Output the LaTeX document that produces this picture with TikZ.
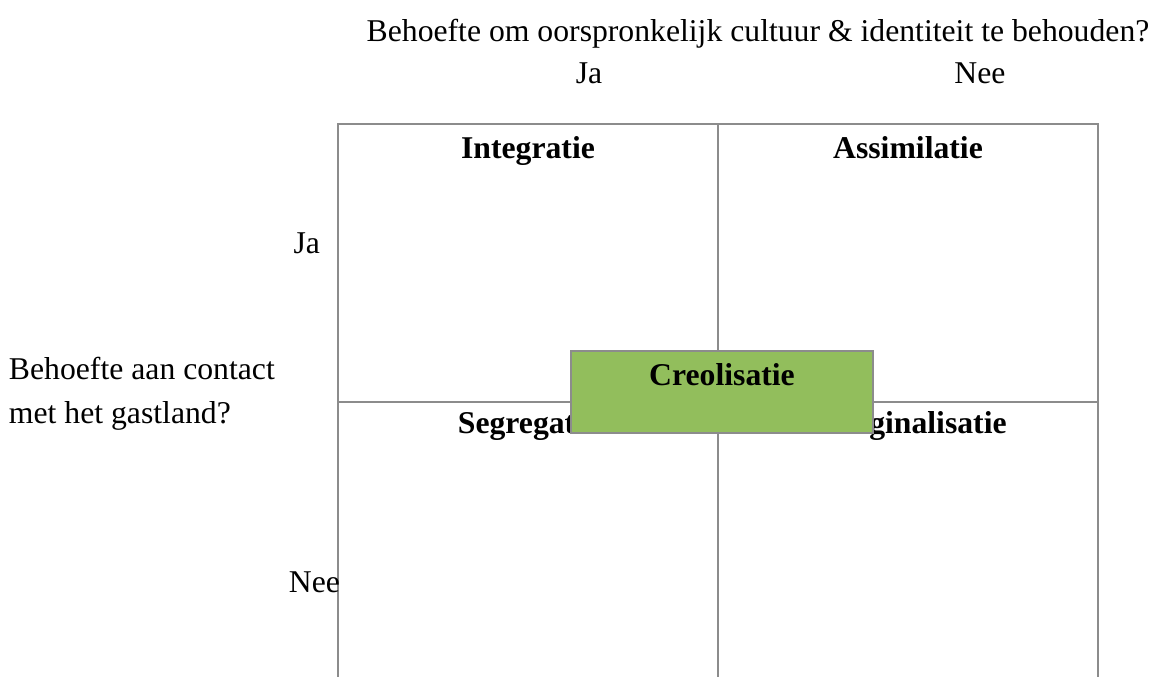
\documentclass[tikz,border=0pt]{standalone}
\usepackage{fontspec}
\setmainfont{Liberation Serif}
\definecolor{gridgray}{RGB}{140,140,140}
\definecolor{creogreen}{RGB}{146,190,92}
\begin{document}
\begin{tikzpicture}[x=1pt,y=-1pt,
  every node/.style={inner sep=0pt,outer sep=0pt,font=\fontsize{31.7}{42}\selectfont},
  gridline/.style={draw=gridgray,line width=2pt},
  lbl/.style={anchor=base},
  quad/.style={anchor=base,font=\fontsize{31.7}{42}\selectfont\bfseries},
  creobox/.style={draw=gridgray,line width=2pt,fill=creogreen}]
\useasboundingbox (0,0) rectangle (1159,677);
% grid corners
\coordinate (tl) at (338,123.5);
\coordinate (tm) at (718,123.5);
\coordinate (tr) at (1098,123.5);
\coordinate (ml) at (338,401.5);
\coordinate (mr) at (1098,401.5);
\coordinate (bl) at (338,677);
\coordinate (bm) at (718,677);
\coordinate (br) at (1098,677);
\draw[gridline] (bl) -- (tl) -- (tr) -- (br);
\draw[gridline] (tm) -- (bm);
\draw[gridline] (ml) -- (mr);
% headings
\node[lbl] (qtop) at (758,42) {Behoefte om oorspronkelijk cultuur \& identiteit te behouden?};
\node[lbl] (ja1) at (589,84) {Ja};
\node[lbl] (nee1) at (980,84) {Nee};
\node[lbl,anchor=base east] (ja2) at (320,253) {Ja};
\node[lbl,anchor=base east] (nee2) at (340,592) {Nee};
\node[anchor=base west] (ql1) at (9,379) {Behoefte aan contact};
\node[anchor=base west] (ql2) at (9,423) {met het gastland?};
% quadrant labels
\node[quad] (int) at (528,158) {Integratie};
\node[quad] (ass) at (908,158) {Assimilatie};
\node[quad] (seg) at (528,433) {Segregatie};
\node[quad] (mar) at (908,433) {Marginalisatie};
% creolisation box
\path[creobox] (571,351) rectangle (873,433);
\node[quad] (creo) at (722,385) {Creolisatie};
\end{tikzpicture}
\end{document}
